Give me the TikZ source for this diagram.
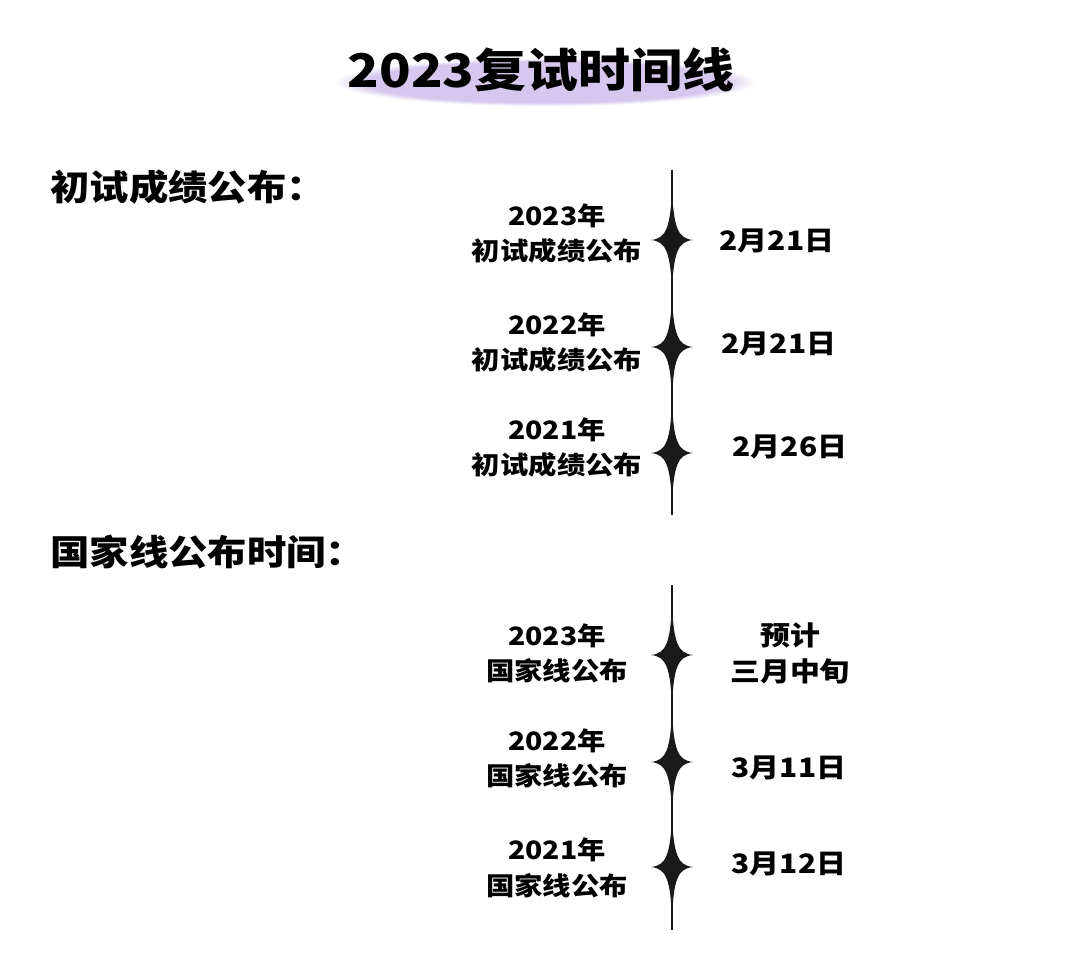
\documentclass[tikz,border=0pt]{standalone}
\usepackage{fontspec}
\setmainfont{Noto Sans CJK SC}[FakeStretch=1.12]
\usepackage{tikz}
\usetikzlibrary{positioning,calc,fadings}

% sparkle on the timeline
\newcommand{\sparkle}[1]{%
  \fill[black!90] ($(#1)+(0,-52)$) .. controls ($(#1)+(1.5,-12)$) and ($(#1)+(6,-1.5)$) .. ($(#1)+(21,0)$)
    .. controls ($(#1)+(6,1.5)$) and ($(#1)+(1.5,12)$) .. ($(#1)+(0,52)$)
    .. controls ($(#1)+(-1.5,12)$) and ($(#1)+(-6,1.5)$) .. ($(#1)+(-21,0)$)
    .. controls ($(#1)+(-6,-1.5)$) and ($(#1)+(-1.5,-12)$) .. cycle;}

\begin{document}
\begin{tikzpicture}[
  x=0.025cm, y=-0.025cm,
  font=\bfseries,
  title/.style={font=\fontsize{33}{35}\selectfont\bfseries, inner sep=0pt},
  head/.style={font=\fontsize{25}{27}\selectfont\bfseries, anchor=west, inner sep=0pt},
  year/.style={font=\fontsize{18}{20}\selectfont\bfseries, inner sep=0pt},
  what/.style={font=\fontsize{18}{20}\selectfont\bfseries, inner sep=0pt},
  date/.style={font=\fontsize{19}{21}\selectfont\bfseries, inner sep=0pt},
  tline/.style={line width=1.3pt, black!90},
  glow/.style={fill=violet!60!blue, path fading=circle with fuzzy edge 15 percent}
]
\useasboundingbox[fill=white] (0,0) rectangle (1080,958);

% soft violet glow behind the title
\fill[glow, opacity=0.22] (335,58) rectangle (755,106);
\node[title] (title) at (541,70) {2023复试时间线};

% section headings
\node[head] (h1) at (50,187) {初试成绩公布：};
\node[head] (h2) at (50,552) {国家线公布时间：};

% first timeline
\coordinate (t1top) at (672,170);
\coordinate (t1bot) at (672,515);
\coordinate (s1) at (672,240);
\coordinate (s2) at (672,347);
\coordinate (s3) at (672,453);
\draw[tline] (t1top) -- (t1bot);
\sparkle{s1} \sparkle{s2} \sparkle{s3}

\node[year] (y1) at (557,216) {2023年};
\node[what] (w1) at (557,251) {初试成绩公布};
\node[year] (y2) at (557,325) {2022年};
\node[what] (w2) at (557,360) {初试成绩公布};
\node[year] (y3) at (557,430) {2021年};
\node[what] (w3) at (557,465) {初试成绩公布};

\node[date] (d1) at (777,241) {2月21日};
\node[date] (d2) at (779,344) {2月21日};
\node[date] (d3) at (790,447) {2月26日};

% second timeline
\coordinate (t2top) at (672,585);
\coordinate (t2bot) at (672,930);
\coordinate (s4) at (672,655);
\coordinate (s5) at (672,762);
\coordinate (s6) at (672,867);
\draw[tline] (t2top) -- (t2bot);
\sparkle{s4} \sparkle{s5} \sparkle{s6}

\node[year] (y4) at (557,636) {2023年};
\node[what] (w4) at (557,671) {国家线公布};
\node[year] (y5) at (557,741) {2022年};
\node[what] (w5) at (557,776) {国家线公布};
\node[year] (y6) at (557,850) {2021年};
\node[what] (w6) at (557,886) {国家线公布};

\node[date] (d4) at (790,636) {预计};
\node[date] (d5) at (790,671) {三月中旬};
\node[date] (d6) at (789,768) {3月11日};
\node[date] (d7) at (789,864) {3月12日};
\end{tikzpicture}
\end{document}
